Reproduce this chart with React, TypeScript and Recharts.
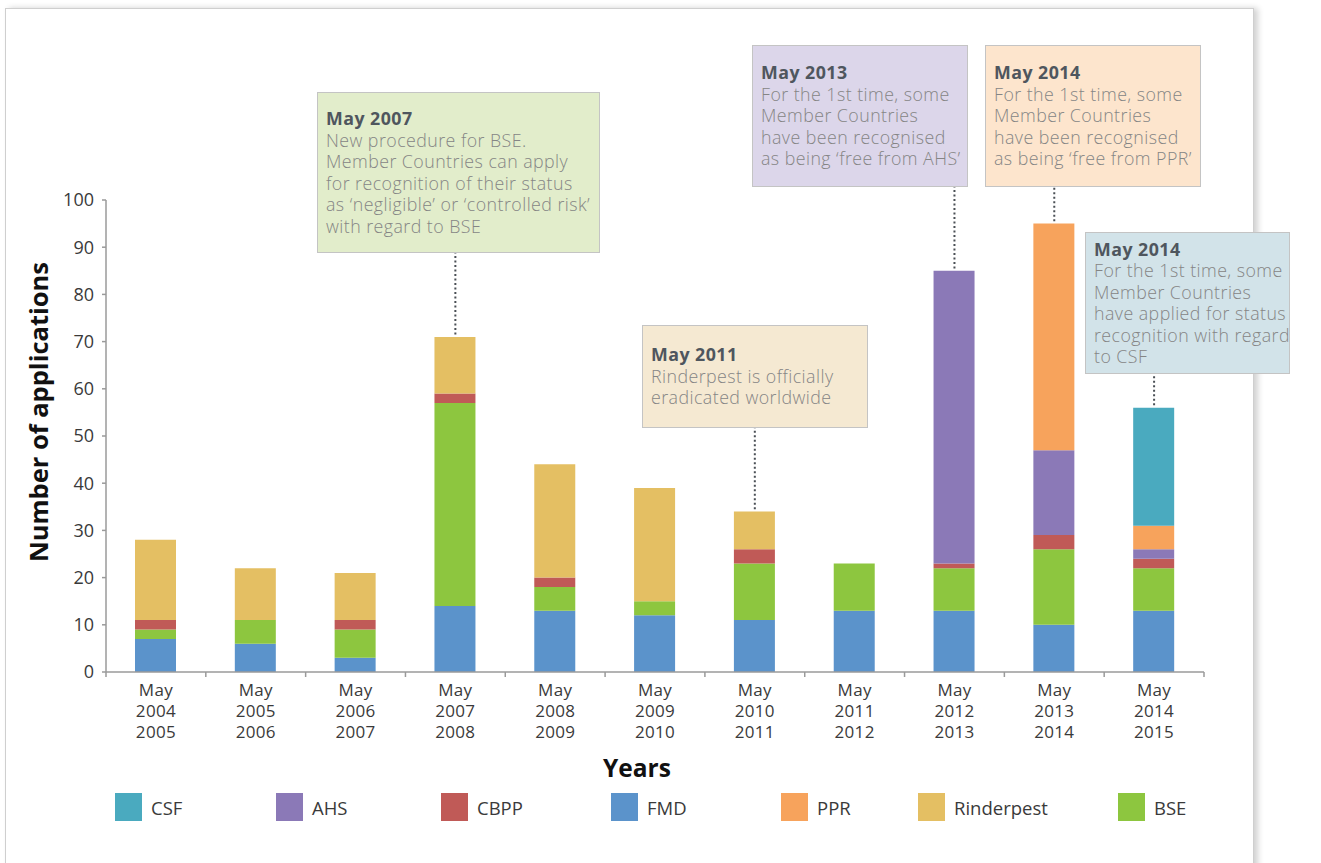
import React from 'react';
import { BarChart, Bar, XAxis, YAxis, ReferenceLine } from 'recharts';

// ---------- data ----------
const categories = [
  'May 2004 2005', 'May 2005 2006', 'May 2006 2007', 'May 2007 2008', 'May 2008 2009',
  'May 2009 2010', 'May 2010 2011', 'May 2011 2012', 'May 2012 2013', 'May 2013 2014', 'May 2014 2015',
];
const fmd = [7, 6, 3, 14, 13, 12, 11, 13, 13, 10, 13];
const bse = [2, 5, 6, 43, 5, 3, 12, 10, 9, 16, 9];
const cbpp = [2, 0, 2, 2, 2, 0, 3, 0, 1, 3, 2];
const rinderpest = [17, 11, 10, 12, 24, 24, 8, 0, 0, 0, 0];
const ahs = [0, 0, 0, 0, 0, 0, 0, 0, 62, 18, 2];
const ppr = [0, 0, 0, 0, 0, 0, 0, 0, 0, 48, 5];
const csf = [0, 0, 0, 0, 0, 0, 0, 0, 0, 0, 25];
const yTicks = [0, 10, 20, 30, 40, 50, 60, 70, 80, 90, 100];

const legendNames = ['CSF', 'AHS', 'CBPP', 'FMD', 'PPR', 'Rinderpest', 'BSE'];

// annotation connectors: category index, bar top value, end value (box edge)
const connectorCat = [3, 6, 8, 9, 10];
const connectorFrom = [71, 34, 85, 95, 56];
const connectorTo = [88.8, 51.7, 102.8, 102.8, 63.1];

const annTitles = ['May 2007', 'May 2011', 'May 2013', 'May 2014', 'May 2014'];
const annBodies = [
  ['New procedure for BSE.', 'Member Countries can apply', 'for recognition of their status', 'as \u2018negligible\u2019 or \u2018controlled risk\u2019', 'with regard to BSE'],
  ['Rinderpest is officially', 'eradicated worldwide'],
  ['For the 1st time, some', 'Member Countries', 'have been recognised', 'as being \u2018free from AHS\u2019'],
  ['For the 1st time, some', 'Member Countries', 'have been recognised', 'as being \u2018free from PPR\u2019'],
  ['For the 1st time, some', 'Member Countries', 'have applied for status', 'recognition with regard', 'to CSF'],
];

// ---------- styling / layout ----------
const COLORS: Record<string, string> = {
  CSF: '#4AAABF',
  AHS: '#8B79B7',
  CBPP: '#C05A57',
  FMD: '#5B93CB',
  PPR: '#F7A35C',
  Rinderpest: '#E4BF63',
  BSE: '#8DC63F',
};
const annStyles = [
  { left: 317, top: 92, width: 283, height: 161, bg: '#E2EDCB' },
  { left: 642, top: 325, width: 226, height: 103, bg: '#F5E9D2' },
  { left: 752, top: 45, width: 216, height: 142, bg: '#DCD6EA' },
  { left: 985, top: 45, width: 216, height: 142, bg: '#FDE5CD' },
  { left: 1085, top: 232, width: 205, height: 142, bg: '#D2E3E9' },
];
const legendLeft = [115, 276, 441, 611, 781, 918, 1118];

const W = 1321;
const H = 863;
const MARGIN = { top: 200, right: 117, bottom: 121, left: 46 };
const Y_AXIS_W = 60;
const PLOT_W = W - MARGIN.left - MARGIN.right - Y_AXIS_W;
const FONT = '"Open Sans", "Noto Sans", sans-serif';

const data = categories.map((c, i) => ({
  cat: c,
  FMD: fmd[i],
  BSE: bse[i],
  CBPP: cbpp[i],
  Rinderpest: rinderpest[i],
  AHS: ahs[i],
  PPR: ppr[i],
  CSF: csf[i],
}));

const stackOrder = ['FMD', 'BSE', 'CBPP', 'Rinderpest', 'AHS', 'PPR', 'CSF'];

const CategoryTick = (props: any) => {
  const { x, y, payload } = props;
  const band = PLOT_W / categories.length;
  const idx = categories.indexOf(payload.value);
  const parts = String(payload.value).split(' ');
  return (
    <g>
      <line x1={x - band / 2} y1={y} x2={x - band / 2} y2={y + 5} stroke="#9a9a9a" strokeWidth={1.5} />
      {idx === categories.length - 1 && (
        <line x1={x + band / 2} y1={y} x2={x + band / 2} y2={y + 5} stroke="#9a9a9a" strokeWidth={1.5} />
      )}
      <text textAnchor="middle" fill="#3a3a3a" fontSize={17} letterSpacing={0.3} fontFamily={FONT}>
        {parts.map((p, k) => (
          <tspan key={k} x={x} y={y + 24 + k * 21}>
            {p}
          </tspan>
        ))}
      </text>
    </g>
  );
};

export default function App() {
  return (
    <div style={{ position: 'absolute', left: 0, top: 0, width: W, height: H, overflow: 'hidden', background: '#fff', fontFamily: FONT }}>
      {/* card */}
      <div
        style={{
          position: 'absolute',
          left: 5,
          top: 8,
          width: 1247,
          height: 920,
          border: '1px solid #cfcfcf',
          background: '#fff',
          boxShadow: '4px 0 6px rgba(0,0,0,0.18)',
        }}
      />
      <div style={{ position: 'absolute', left: 0, top: 0 }}>
        <BarChart width={W} height={H} data={data} margin={MARGIN} barSize={41}>
          <XAxis
            dataKey="cat"
            interval={0}
            height={70}
            tickLine={false}
            tickSize={0}
            tickMargin={0}
            axisLine={{ stroke: '#9a9a9a', strokeWidth: 1.5 }}
            tick={<CategoryTick />}
          />
          <YAxis
            width={Y_AXIS_W}
            domain={[0, 100]}
            ticks={yTicks}
            interval={0}
            tickSize={4}
            tickMargin={8}
            axisLine={{ stroke: '#9a9a9a', strokeWidth: 1.5 }}
            tickLine={{ stroke: '#9a9a9a', strokeWidth: 1.5 }}
            tick={{ fill: '#3a3a3a', fontSize: 18, fontFamily: FONT }}
          />
          {stackOrder.map((k) => (
            <Bar key={k} dataKey={k} stackId="a" fill={COLORS[k]} isAnimationActive={false} />
          ))}
          {connectorCat.map((ci, i) => (
            <ReferenceLine
              key={i}
              ifOverflow="visible"
              segment={[
                { x: categories[ci], y: connectorFrom[i] + 0.5 },
                { x: categories[ci], y: connectorTo[i] },
              ]}
              stroke="#4a4f55"
              strokeWidth={2}
              strokeDasharray="2 2.5"
            />
          ))}
        </BarChart>
      </div>

      {/* axis titles */}
      <div
        style={{
          position: 'absolute',
          left: 38,
          top: 412,
          transform: 'translate(-50%, -50%) rotate(-90deg)',
          whiteSpace: 'nowrap',
          fontWeight: 700,
          fontSize: 25.5,
          color: '#111',
        }}
      >
        Number of applications
      </div>
      <div
        style={{
          position: 'absolute',
          left: 637,
          top: 767,
          transform: 'translate(-50%, -50%)',
          whiteSpace: 'nowrap',
          fontWeight: 700,
          fontSize: 24.5,
          color: '#111',
        }}
      >
        Years
      </div>

      {/* legend */}
      {legendNames.map((n, i) => (
        <div key={n} style={{ position: 'absolute', left: legendLeft[i], top: 793, height: 28, display: 'flex', alignItems: 'center' }}>
          <div style={{ width: 27, height: 28, background: COLORS[n] }} />
          <span style={{ marginLeft: 9, fontSize: 18.5, color: '#3a3a3a' }}>{n}</span>
        </div>
      ))}

      {/* annotations */}
      {annStyles.map((s, i) => (
        <div
          key={i}
          style={{
            position: 'absolute',
            left: s.left,
            top: s.top,
            width: s.width,
            height: s.height,
            boxSizing: 'border-box',
            background: s.bg,
            border: '1px solid #c4c4c4',
            padding: '0 8px',
            display: 'flex',
            flexDirection: 'column',
            justifyContent: 'center',
            fontSize: 17.8,
            letterSpacing: '0.45px',
            lineHeight: '21.5px',
            whiteSpace: 'nowrap',
          }}
        >
          <div style={{ fontWeight: 700, color: '#4f565e' }}>{annTitles[i]}</div>
          {annBodies[i].map((l, k) => (
            <div key={k} style={{ color: '#858585', fontWeight: 300 }}>
              {l}
            </div>
          ))}
        </div>
      ))}
    </div>
  );
}
